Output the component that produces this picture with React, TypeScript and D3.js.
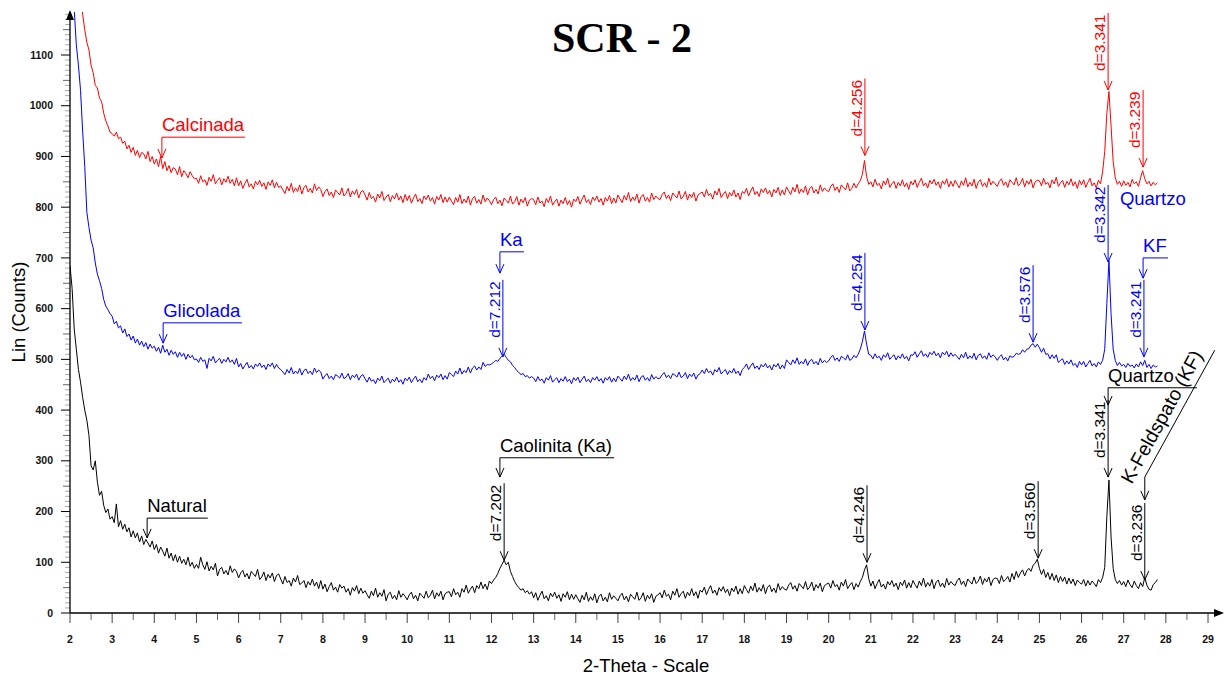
import React from "react";
import * as d3 from "d3";

// ---- data (2-Theta from 2.00 in steps of 0.05; one row per degree) ----
const THETA_START = 2.0;
const THETA_STEP = 0.05;

const natural = [
  685, 640, 560, 520, 480, 455, 425, 400, 380, 350, 290, 282, 300, 258, 232, 240, 212, 198, 205, 185,
  190, 178, 215, 170, 182, 165, 175, 160, 168, 150, 162, 148, 158, 140, 152, 135, 145, 138, 130, 142,
  125, 135, 118, 130, 122, 112, 128, 108, 118, 103, 115, 100, 112, 98, 106, 95, 110, 92, 100, 88,
  96, 88, 110, 95, 86, 101, 83, 92, 85, 98, 73, 86, 90, 77, 84, 75, 93, 80, 87, 82,
  69, 79, 84, 71, 78, 67, 82, 77, 72, 86, 66, 71, 81, 64, 76, 69, 79, 62, 74, 77,
  67, 57, 72, 60, 64, 53, 69, 61, 74, 56, 59, 64, 50, 62, 55, 67, 53, 61, 48, 64,
  47, 57, 42, 52, 60, 45, 51, 41, 56, 49, 53, 41, 48, 35, 50, 43, 54, 38, 49, 39,
  44, 36, 29, 43, 34, 49, 31, 40, 33, 46, 24, 37, 41, 28, 35, 26, 44, 31, 38, 33,
  26, 36, 41, 28, 35, 24, 39, 34, 29, 43, 30, 35, 45, 28, 40, 33, 43, 26, 38, 41,
  42, 32, 48, 36, 41, 31, 48, 41, 55, 39, 47, 53, 40, 54, 48, 61, 48, 57, 46, 63,
  58, 65, 70, 78, 88, 96, 104, 95, 100, 82, 72, 62, 55, 50, 45, 48, 40, 44, 37, 42,
  30, 40, 25, 35, 43, 28, 34, 24, 39, 32, 41, 29, 36, 23, 38, 31, 42, 26, 37, 27,
  36, 28, 21, 35, 26, 41, 23, 32, 25, 38, 20, 33, 37, 24, 31, 22, 40, 27, 34, 29,
  24, 34, 39, 26, 33, 22, 37, 32, 27, 41, 25, 30, 40, 23, 35, 28, 38, 21, 33, 36,
  40, 30, 45, 33, 37, 26, 43, 35, 48, 31, 38, 43, 29, 41, 34, 48, 34, 42, 29, 45,
  41, 51, 36, 46, 54, 39, 45, 35, 50, 43, 52, 40, 47, 34, 49, 42, 53, 37, 48, 38,
  54, 46, 39, 53, 44, 59, 41, 50, 43, 56, 38, 51, 55, 42, 49, 40, 58, 45, 52, 47,
  45, 55, 60, 47, 54, 43, 58, 53, 48, 62, 46, 51, 61, 44, 56, 49, 59, 42, 54, 57,
  59, 49, 64, 52, 56, 45, 61, 53, 66, 48, 55, 60, 46, 58, 51, 62, 70, 85, 95, 68,
  53, 63, 48, 58, 66, 51, 57, 47, 62, 55, 64, 52, 59, 46, 61, 54, 65, 49, 60, 50,
  64, 56, 49, 63, 54, 69, 51, 60, 53, 66, 48, 61, 65, 52, 59, 50, 68, 55, 62, 57,
  54, 64, 69, 56, 63, 52, 67, 62, 57, 71, 58, 63, 73, 56, 68, 61, 71, 54, 66, 69,
  68, 58, 74, 62, 66, 72, 61, 78, 66, 82, 70, 79, 85, 73, 83, 88, 82, 94, 98, 106,
  88, 76, 86, 70, 80, 66, 78, 64, 75, 60, 72, 62, 71, 57, 69, 58, 67, 54, 65, 60,
  57, 66, 53, 64, 55, 63, 58, 52, 66, 60, 70, 90, 190, 262, 150, 88, 66, 58, 64, 55,
  62, 52, 65, 56, 50, 63, 54, 48, 60, 52, 70, 55, 47, 45, 56, 60, 66,
];

const glicolada = [
  1400, 1300, 1190, 1120, 1080, 1030, 950, 880, 790, 760, 735, 720, 690, 668, 655, 640, 618, 605, 598, 590,
  585, 570, 575, 562, 566, 552, 560, 545, 550, 538, 546, 532, 540, 528, 536, 525, 533, 520, 530, 522,
  526, 516, 524, 512, 528, 514, 520, 508, 518, 510, 515, 504, 514, 506, 512, 500, 510, 503, 508, 499,
  501, 494, 504, 496, 499, 482, 502, 497, 506, 493, 498, 502, 492, 500, 495, 504, 494, 499, 490, 502,
  485, 492, 481, 488, 494, 483, 488, 481, 491, 486, 493, 484, 489, 480, 491, 486, 493, 482, 490, 483,
  480, 475, 470, 480, 473, 484, 471, 477, 472, 482, 469, 478, 481, 472, 477, 470, 483, 474, 479, 475,
  461, 468, 472, 462, 467, 460, 470, 467, 463, 473, 462, 465, 472, 460, 469, 464, 471, 459, 467, 470,
  462, 455, 465, 457, 460, 452, 463, 458, 467, 454, 459, 463, 453, 461, 456, 465, 455, 460, 451, 463,
  458, 465, 454, 461, 467, 456, 461, 454, 464, 459, 471, 462, 467, 458, 469, 464, 471, 460, 468, 461,
  474, 470, 466, 477, 471, 483, 471, 478, 474, 485, 473, 483, 487, 479, 485, 480, 494, 486, 490, 489,
  491, 494, 498, 496, 502, 506, 510, 504, 498, 495, 488, 484, 478, 474, 470, 472, 466, 468, 463, 466,
  463, 456, 466, 458, 461, 453, 464, 459, 468, 455, 460, 464, 454, 462, 457, 466, 456, 461, 452, 464,
  458, 465, 454, 461, 467, 456, 461, 454, 464, 459, 466, 457, 462, 453, 464, 459, 466, 455, 463, 456,
  467, 462, 457, 467, 460, 471, 458, 464, 459, 469, 456, 465, 468, 459, 464, 457, 470, 461, 466, 462,
  463, 470, 474, 464, 469, 462, 472, 469, 465, 475, 464, 467, 474, 462, 471, 466, 473, 461, 469, 472,
  479, 472, 482, 474, 477, 469, 480, 475, 484, 471, 476, 480, 470, 478, 473, 482, 472, 477, 468, 480,
  484, 491, 480, 487, 493, 482, 487, 480, 490, 485, 492, 483, 488, 479, 490, 485, 492, 481, 489, 482,
  499, 494, 489, 499, 492, 503, 490, 496, 491, 501, 488, 497, 500, 491, 496, 489, 502, 493, 498, 494,
  497, 504, 508, 498, 503, 496, 506, 503, 499, 509, 498, 501, 508, 503, 510, 520, 535, 556, 530, 510,
  508, 501, 511, 503, 506, 498, 509, 504, 513, 500, 505, 509, 499, 507, 502, 511, 501, 506, 497, 509,
  508, 515, 504, 511, 517, 506, 511, 504, 514, 509, 516, 507, 512, 503, 514, 509, 516, 505, 513, 506,
  510, 505, 500, 510, 503, 514, 501, 507, 502, 512, 499, 508, 511, 502, 507, 500, 513, 504, 509, 505,
  498, 505, 509, 499, 504, 497, 507, 504, 506, 512, 510, 511, 519, 514, 520, 521, 528, 531, 524, 530,
  523, 514, 522, 510, 511, 501, 509, 502, 509, 494, 498, 501, 490, 497, 491, 499, 488, 492, 484, 496,
  489, 496, 485, 492, 498, 487, 492, 485, 495, 490, 498, 520, 610, 695, 590, 520, 498, 488, 494, 487,
  490, 484, 492, 486, 489, 483, 491, 485, 495, 488, 498, 484, 490, 482, 489, 485, 487,
];

const calcinada = [
  1600, 1500, 1420, 1350, 1280, 1230, 1180, 1150, 1125, 1110, 1080, 1065, 1040, 1035, 1015, 1008, 985, 970, 960, 948,
  945, 940, 948, 935, 938, 926, 930, 915, 922, 908, 918, 902, 912, 898, 908, 905, 895, 910, 890, 900,
  885, 895, 880, 900, 876, 890, 872, 882, 868, 878, 875, 864, 880, 860, 872, 866, 858, 870, 862, 856,
  857, 847, 862, 850, 854, 843, 859, 851, 864, 846, 853, 858, 844, 856, 849, 861, 847, 855, 842, 858,
  842, 852, 837, 847, 855, 840, 846, 836, 851, 844, 853, 841, 848, 835, 850, 843, 854, 838, 849, 839,
  842, 834, 827, 841, 832, 847, 829, 838, 831, 844, 826, 839, 843, 830, 837, 828, 846, 833, 840, 835,
  821, 831, 836, 823, 830, 819, 834, 829, 824, 838, 822, 827, 837, 820, 832, 825, 835, 818, 830, 833,
  824, 814, 829, 817, 821, 810, 826, 818, 831, 813, 820, 825, 811, 823, 816, 828, 814, 822, 809, 825,
  813, 823, 808, 818, 826, 811, 817, 807, 822, 815, 824, 812, 819, 806, 821, 814, 825, 809, 820, 810,
  820, 812, 805, 819, 810, 825, 807, 816, 809, 822, 804, 817, 821, 808, 815, 806, 824, 811, 818, 813,
  805, 815, 820, 807, 814, 803, 818, 813, 808, 822, 806, 811, 821, 804, 816, 809, 819, 802, 814, 817,
  815, 805, 820, 808, 812, 801, 817, 809, 822, 804, 811, 816, 802, 814, 807, 819, 805, 813, 800, 816,
  811, 821, 806, 816, 824, 809, 815, 805, 820, 813, 822, 810, 817, 804, 819, 812, 823, 807, 818, 808,
  824, 816, 809, 823, 814, 829, 811, 820, 813, 826, 808, 821, 825, 812, 819, 810, 828, 815, 822, 817,
  815, 825, 830, 817, 824, 813, 828, 823, 818, 832, 816, 821, 831, 814, 826, 819, 829, 812, 824, 827,
  830, 820, 835, 823, 827, 816, 832, 824, 837, 819, 826, 831, 817, 829, 822, 834, 820, 828, 815, 831,
  827, 837, 822, 832, 840, 825, 831, 821, 836, 829, 838, 826, 833, 820, 835, 828, 839, 823, 834, 824,
  840, 832, 825, 839, 830, 845, 827, 836, 829, 842, 824, 837, 841, 828, 835, 826, 844, 831, 838, 833,
  831, 841, 846, 833, 840, 829, 844, 839, 834, 848, 832, 837, 847, 838, 846, 852, 865, 892, 860, 845,
  850, 840, 855, 843, 847, 836, 852, 844, 857, 839, 846, 851, 837, 849, 842, 854, 840, 848, 835, 851,
  844, 854, 839, 849, 857, 842, 848, 838, 853, 846, 855, 843, 850, 837, 852, 845, 856, 840, 851, 841,
  853, 845, 838, 852, 843, 858, 840, 849, 842, 855, 837, 850, 854, 841, 848, 839, 857, 844, 851, 846,
  841, 851, 856, 843, 850, 839, 854, 849, 844, 858, 842, 847, 857, 840, 852, 845, 855, 838, 850, 853,
  852, 842, 857, 845, 849, 838, 854, 846, 859, 841, 848, 853, 839, 851, 844, 856, 842, 850, 837, 853,
  844, 854, 839, 849, 857, 842, 848, 838, 853, 846, 870, 910, 985, 1028, 960, 890, 858, 845, 851, 841,
  852, 843, 849, 840, 855, 846, 850, 841, 858, 872, 856, 846, 851, 842, 849, 844, 848,
];

const xTickValues = d3.range(2, 30);
const yTickValues = d3.range(0, 1200, 100);

// series labels with leader arrows: arrow position (2θ), bar level, arrow tip, bar end
const leaders = [
  { color: "#ff0000", text: "Calcinada", x: 4.18, bar: 938, tip: 897, xEnd: 6.15 },
  { color: "#0000ff", text: "Glicolada", x: 4.21, bar: 572, tip: 532, xEnd: 6.08 },
  { color: "#0000ff", text: "Ka", x: 12.2, bar: 712, tip: 670, xEnd: 12.77 },
  { color: "#0000ff", text: "KF", x: 27.46, bar: 700, tip: 660, xEnd: 28.05 },
  { color: "#000000", text: "Natural", x: 3.83, bar: 187, tip: 148, xEnd: 5.27 },
  { color: "#000000", text: "Caolinita (Ka)", x: 12.2, bar: 306, tip: 268, xEnd: 14.91 },
  { color: "#000000", text: "Quartzo", x: 26.63, bar: 444, tip: 410, xEnd: 28.74 },
];

// d-spacing peak markers: 2θ and arrow tip (counts)
const peaks = [
  { color: "#ff0000", text: "d=4.256", x: 20.86, tip: 902 },
  { color: "#ff0000", text: "d=3.341", x: 26.63, tip: 1031 },
  { color: "#ff0000", text: "d=3.239", x: 27.46, tip: 879 },
  { color: "#0000ff", text: "d=7.212", x: 12.27, tip: 505 },
  { color: "#0000ff", text: "d=4.254", x: 20.86, tip: 558 },
  { color: "#0000ff", text: "d=3.576", x: 24.85, tip: 534 },
  { color: "#0000ff", text: "d=3.342", x: 26.63, tip: 692 },
  { color: "#0000ff", text: "d=3.241", x: 27.48, tip: 505 },
  { color: "#000000", text: "d=7.202", x: 12.3, tip: 104 },
  { color: "#000000", text: "d=4.246", x: 20.91, tip: 100 },
  { color: "#000000", text: "d=3.560", x: 24.97, tip: 108 },
  { color: "#000000", text: "d=3.341", x: 26.63, tip: 268 },
  { color: "#000000", text: "d=3.236", x: 27.5, tip: 65 },
];

const FONT = "'Liberation Sans', Arial, Helvetica, sans-serif";

export default function App() {
  const x = d3.scaleLinear().domain([2, 29]).range([70, 1208]);
  const y = d3.scaleLinear().domain([0, 1100]).range([613, 55]);
  const yTop = 12;
  const xRight = 1220;

  const line = d3
    .line<number>()
    .x((_, i) => x(THETA_START + i * THETA_STEP))
    .y((d) => y(d));

  const series = [
    { data: natural, color: "#000000" },
    { data: glicolada, color: "#0000ff" },
    { data: calcinada, color: "#ff0000" },
  ];

  const yMinor = d3.range(0, 1190, 10);
  const xMinor = d3.range(2, 29.01, 0.5);

  const arrowHead = (px: number, py: number, color: string) => (
    <path
      d={`M${px - 4},${py - 9} L${px},${py} L${px + 4},${py - 9}`}
      fill="none"
      stroke={color}
      strokeWidth={1}
    />
  );

  // K-Feldspato diagonal leader
  const kfLow = { x: x(27.5), y: y(268) };
  const kfHigh = { x: x(29.16), y: y(518) };
  const kfTip = y(223);
  const kfAngle = (Math.atan2(kfHigh.y - kfLow.y, kfHigh.x - kfLow.x) * 180) / Math.PI;

  return (
    <svg
      width={1224}
      height={677}
      style={{ position: "absolute", left: 0, top: 0, background: "#fff" }}
      fontFamily={FONT}
    >
      <defs>
        <clipPath id="plotclip">
          <rect x={70} y={yTop} width={xRight - 70} height={613 - yTop} />
        </clipPath>
      </defs>
      <rect x={0} y={0} width={1224} height={677} fill="#fff" />

      {/* title */}
      <text
        x={622}
        y={52}
        textAnchor="middle"
        fontFamily="'Liberation Serif', 'Times New Roman', serif"
        fontWeight="bold"
        fontSize={42}
      >
        SCR - 2
      </text>

      {/* y ticks */}
      {yMinor.map((v) => {
        const major = v % 100 === 0;
        const mid = v % 50 === 0;
        const len = major ? 9 : mid ? 7 : 5;
        return (
          <line
            key={"ym" + v}
            x1={70 - len}
            x2={70}
            y1={y(v)}
            y2={y(v)}
            stroke={major ? "#000" : mid ? "#666" : "#aaa"}
            strokeWidth={1}
          />
        );
      })}
      {yTickValues.map((v) => (
        <text
          key={"yl" + v}
          x={53}
          y={y(v)}
          dy="0.35em"
          textAnchor="end"
          fontSize={10.5}
          fontWeight="bold"
          fill="#111"
        >
          {v}
        </text>
      ))}

      {/* x ticks */}
      {xMinor.map((v) => {
        const major = Math.abs(v - Math.round(v)) < 1e-6;
        return (
          <line
            key={"xm" + v}
            x1={x(v)}
            x2={x(v)}
            y1={613}
            y2={613 + (major ? 10 : 7)}
            stroke={major ? "#444" : "#666"}
            strokeWidth={1}
          />
        );
      })}
      {xTickValues.map((v) => (
        <text
          key={"xl" + v}
          x={x(v)}
          y={643}
          textAnchor="middle"
          fontSize={10.5}
          fontWeight="bold"
          fill="#111"
        >
          {v}
        </text>
      ))}

      {/* axes */}
      <line x1={70} x2={70} y1={yTop} y2={613} stroke="#000" strokeWidth={1.3} />
      <line x1={70} x2={xRight} y1={613} y2={613} stroke="#000" strokeWidth={1.3} />
      <path d={`M${70},${yTop - 2} L${66},${yTop + 8} L${74},${yTop + 8} Z`} fill="#000" />
      <path d={`M${xRight + 4},613 L${xRight - 6},609 L${xRight - 6},617 Z`} fill="#000" />

      {/* axis titles */}
      <text x={646} y={672} textAnchor="middle" fontSize={18.5}>
        2-Theta - Scale
      </text>
      <text transform={`translate(25,312) rotate(-90)`} textAnchor="middle" fontSize={18.5}>
        Lin (Counts)
      </text>

      {/* series */}
      <g clipPath="url(#plotclip)">
        {series.map((s, i) => (
          <path
            key={i}
            d={line(s.data) || ""}
            fill="none"
            stroke={s.color}
            strokeWidth={1}
            strokeLinejoin="round"
          />
        ))}
      </g>

      {/* leader labels */}
      {leaders.map((l, i) => {
        const px = x(l.x);
        const pb = y(l.bar);
        const pt = y(l.tip);
        return (
          <g key={"ld" + i}>
            <text x={px} y={pb - 6} fill={l.color} fontSize={18.5}>
              {l.text}
            </text>
            <line x1={px} x2={x(l.xEnd)} y1={pb} y2={pb} stroke={l.color} strokeWidth={1} />
            <line x1={px} x2={px} y1={pb} y2={pt} stroke={l.color} strokeWidth={1} />
            {arrowHead(px, pt, l.color)}
          </g>
        );
      })}

      {/* blue Quartzo label */}
      <text x={x(26.91)} y={y(804)} fill="#0000ff" fontSize={18.5}>
        Quartzo
      </text>

      {/* peak d labels */}
      {peaks.map((p, i) => {
        const px = x(p.x);
        const pt = y(p.tip);
        const top = Math.max(yTop, pt - 77);
        return (
          <g key={"pk" + i}>
            <line x1={px} x2={px} y1={top} y2={pt} stroke={p.color} strokeWidth={1} />
            {arrowHead(px, pt, p.color)}
            <text
              transform={`translate(${px - 3},${pt - 19}) rotate(-90)`}
              fill={p.color}
              fontSize={15.5}
            >
              {p.text}
            </text>
          </g>
        );
      })}

      {/* K-Feldspato diagonal leader */}
      <line x1={kfHigh.x} y1={kfHigh.y} x2={kfLow.x} y2={kfLow.y} stroke="#000" strokeWidth={1} />
      <line x1={kfLow.x} x2={kfLow.x} y1={kfLow.y} y2={kfTip} stroke="#000" strokeWidth={1} />
      {arrowHead(kfLow.x, kfTip, "#000")}
      <text
        transform={`translate(${kfLow.x - 13},${kfLow.y + 8}) rotate(${kfAngle})`}
        fontSize={19.5}
        fill="#000"
      >
        K-Feldspato (KF)
      </text>
    </svg>
  );
}
